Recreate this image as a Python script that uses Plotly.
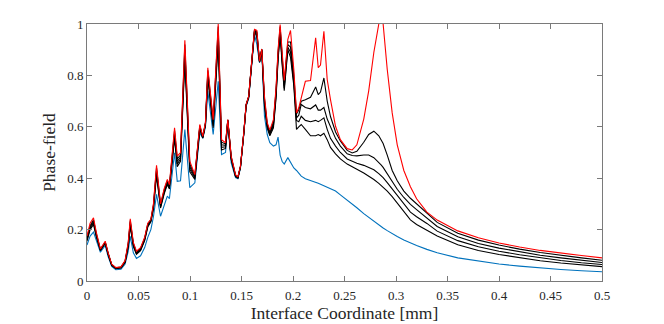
import plotly.graph_objects as go

# interface coordinate [mm]
x = [0.000, 0.003, 0.0063, 0.009, 0.013, 0.0177, 0.0205, 0.024, 0.028, 0.033,
     0.037, 0.040, 0.042, 0.045, 0.048, 0.052, 0.056, 0.059, 0.062, 0.0645,
     0.0675, 0.0714, 0.075, 0.078, 0.080, 0.085, 0.0876, 0.0908, 0.095, 0.0998,
     0.1047, 0.1095, 0.1124, 0.115, 0.1173, 0.1225, 0.1274, 0.1306, 0.1345, 0.1367,
     0.140, 0.1442, 0.1465, 0.149, 0.1522, 0.1545, 0.157, 0.1597, 0.1626, 0.1649,
     0.1675, 0.1697, 0.1723, 0.175, 0.1775, 0.181, 0.1835, 0.1855, 0.1875, 0.1895,
     0.1915, 0.195, 0.1976, 0.2008, 0.2034, 0.2056, 0.208, 0.212, 0.217, 0.222,
     0.2245, 0.2267, 0.230, 0.2332, 0.2364, 0.2413, 0.246, 0.2526, 0.2575, 0.262,
     0.2687, 0.2735, 0.2785, 0.2833, 0.2855, 0.2875, 0.2915, 0.2963, 0.3012, 0.3076,
     0.314, 0.320, 0.330, 0.340, 0.360, 0.380, 0.400, 0.420, 0.440, 0.460,
     0.480, 0.500]

phi_red = [0.175, 0.225, 0.246, 0.19, 0.125, 0.155, 0.11, 0.065, 0.052, 0.055,
           0.08, 0.15, 0.242, 0.15, 0.116, 0.13, 0.17, 0.225, 0.24, 0.30,
           0.45, 0.30, 0.36, 0.395, 0.375, 0.596, 0.486, 0.499, 0.937, 0.466,
           0.414, 0.609, 0.563, 0.617, 0.83, 0.628, 1.0, 0.55, 0.538, 0.628,
           0.486, 0.414, 0.405, 0.447, 0.577, 0.687, 0.719, 0.836, 0.979, 0.975,
           0.855, 0.903, 0.719, 0.616, 0.587, 0.628, 0.75, 0.90, 0.998, 0.89,
           0.78, 0.94, 0.975, 0.823, 0.654, 0.674, 0.713, 0.777, 0.78, 0.946,
           0.83, 0.84, 0.972, 0.784, 0.706, 0.602, 0.55, 0.515, 0.51, 0.53,
           0.63, 0.74, 0.89, 1.0, 1.2, 1.0, 0.823, 0.654, 0.53, 0.43,
           0.367, 0.32, 0.268, 0.237, 0.195, 0.168, 0.148, 0.132, 0.119, 0.108,
           0.099, 0.090]

phi_k1 = [0.17, 0.215, 0.238, 0.185, 0.123, 0.152, 0.108, 0.064, 0.051, 0.054,
          0.078, 0.145, 0.235, 0.146, 0.113, 0.127, 0.167, 0.222, 0.238, 0.295,
          0.44, 0.296, 0.355, 0.39, 0.37, 0.585, 0.475, 0.49, 0.92, 0.455,
          0.41, 0.605, 0.561, 0.615, 0.82, 0.62, 0.99, 0.54, 0.533, 0.627,
          0.483, 0.412, 0.404, 0.446, 0.576, 0.686, 0.718, 0.835, 0.977, 0.97,
          0.854, 0.902, 0.71, 0.61, 0.58, 0.62, 0.74, 0.89, 0.99, 0.87,
          0.77, 0.93, 0.93, 0.80, 0.65, 0.665, 0.70, 0.705, 0.715, 0.755,
          0.725, 0.735, 0.79, 0.70, 0.64, 0.58, 0.545, 0.508, 0.498, 0.505,
          0.54, 0.57, 0.583, 0.565, 0.55, 0.535, 0.49, 0.43, 0.39, 0.35,
          0.322, 0.30, 0.262, 0.228, 0.186, 0.159, 0.140, 0.124, 0.111, 0.100,
          0.090, 0.081]

phi_k2 = [0.165, 0.21, 0.232, 0.18, 0.121, 0.15, 0.106, 0.063, 0.05, 0.053,
          0.076, 0.14, 0.228, 0.142, 0.11, 0.124, 0.164, 0.218, 0.235, 0.29,
          0.43, 0.292, 0.35, 0.385, 0.366, 0.575, 0.465, 0.482, 0.90, 0.445,
          0.405, 0.60, 0.56, 0.612, 0.81, 0.612, 0.97, 0.53, 0.528, 0.626,
          0.48, 0.41, 0.403, 0.445, 0.575, 0.685, 0.717, 0.834, 0.975, 0.965,
          0.853, 0.901, 0.70, 0.605, 0.575, 0.612, 0.73, 0.88, 0.98, 0.86,
          0.76, 0.92, 0.91, 0.78, 0.635, 0.645, 0.687, 0.675, 0.67, 0.685,
          0.665, 0.665, 0.675, 0.63, 0.60, 0.555, 0.525, 0.495, 0.488, 0.487,
          0.49, 0.49, 0.48, 0.462, 0.452, 0.442, 0.418, 0.388, 0.357, 0.325,
          0.298, 0.278, 0.246, 0.212, 0.172, 0.146, 0.128, 0.113, 0.100, 0.090,
          0.080, 0.072]

phi_k3 = [0.16, 0.205, 0.226, 0.177, 0.12, 0.148, 0.105, 0.062, 0.049, 0.052,
          0.074, 0.136, 0.22, 0.138, 0.107, 0.121, 0.16, 0.214, 0.232, 0.285,
          0.42, 0.288, 0.345, 0.38, 0.362, 0.565, 0.455, 0.474, 0.88, 0.435,
          0.40, 0.595, 0.558, 0.61, 0.80, 0.604, 0.95, 0.52, 0.522, 0.625,
          0.476, 0.408, 0.402, 0.444, 0.574, 0.684, 0.716, 0.833, 0.972, 0.958,
          0.852, 0.90, 0.69, 0.60, 0.57, 0.604, 0.72, 0.87, 0.97, 0.85,
          0.75, 0.91, 0.89, 0.77, 0.625, 0.62, 0.641, 0.625, 0.62, 0.625,
          0.62, 0.625, 0.635, 0.59, 0.555, 0.525, 0.50, 0.475, 0.465, 0.458,
          0.45, 0.443, 0.433, 0.418, 0.41, 0.402, 0.383, 0.358, 0.33, 0.298,
          0.268, 0.25, 0.224, 0.194, 0.157, 0.133, 0.116, 0.102, 0.090, 0.080,
          0.071, 0.064]

phi_k4 = [0.155, 0.20, 0.22, 0.173, 0.118, 0.146, 0.103, 0.061, 0.048, 0.051,
          0.072, 0.132, 0.212, 0.134, 0.104, 0.118, 0.157, 0.21, 0.23, 0.28,
          0.41, 0.284, 0.34, 0.375, 0.358, 0.555, 0.445, 0.466, 0.86, 0.425,
          0.395, 0.59, 0.556, 0.607, 0.79, 0.596, 0.93, 0.51, 0.516, 0.624,
          0.472, 0.406, 0.40, 0.443, 0.573, 0.683, 0.715, 0.832, 0.97, 0.95,
          0.851, 0.899, 0.68, 0.595, 0.565, 0.596, 0.71, 0.86, 0.96, 0.84,
          0.74, 0.90, 0.87, 0.76, 0.59, 0.60, 0.609, 0.59, 0.565, 0.565,
          0.57, 0.565, 0.575, 0.55, 0.52, 0.495, 0.475, 0.455, 0.443, 0.435,
          0.42, 0.408, 0.395, 0.38, 0.372, 0.365, 0.35, 0.328, 0.302, 0.268,
          0.238, 0.22, 0.198, 0.175, 0.141, 0.119, 0.103, 0.090, 0.079, 0.070,
          0.062, 0.056]

phi_blue = [0.14, 0.175, 0.19, 0.16, 0.112, 0.138, 0.095, 0.057, 0.044, 0.046,
            0.066, 0.115, 0.174, 0.11, 0.088, 0.098, 0.13, 0.17, 0.2, 0.25,
            0.337, 0.252, 0.30, 0.33, 0.32, 0.499, 0.388, 0.39, 0.589, 0.363,
            0.382, 0.577, 0.555, 0.60, 0.739, 0.57, 0.777, 0.492, 0.50, 0.62,
            0.46, 0.402, 0.398, 0.44, 0.57, 0.68, 0.71, 0.83, 0.96, 0.92,
            0.85, 0.895, 0.641, 0.57, 0.538, 0.525, 0.53, 0.56, 0.49, 0.465,
            0.455, 0.48, 0.46, 0.44, 0.43, 0.42, 0.408, 0.398, 0.392, 0.385,
            0.38, 0.376, 0.37, 0.365, 0.358, 0.35, 0.335, 0.315, 0.30, 0.285,
            0.262, 0.247, 0.232, 0.218, 0.212, 0.206, 0.196, 0.184, 0.173, 0.16,
            0.148, 0.138, 0.123, 0.11, 0.09, 0.077, 0.066, 0.058, 0.051, 0.045,
            0.040, 0.036]

blue = "#0072BD"
red = "#FF0000"

fig = go.Figure()
fig.add_trace(go.Scatter(x=x, y=phi_blue, mode="lines", line=dict(color=blue, width=1.1)))
for k in [phi_k4, phi_k3, phi_k2, phi_k1]:
    fig.add_trace(go.Scatter(x=x, y=k, mode="lines", line=dict(color="black", width=1.1)))
fig.add_trace(go.Scatter(x=x, y=phi_red, mode="lines", line=dict(color=red, width=1.1)))

# the page body adds an 8px offset, so the figure is a bit smaller than the window
fig.update_layout(
    width=656, height=316,
    margin=dict(l=79, r=62, t=16, b=43),
    paper_bgcolor="white",
    plot_bgcolor="white",
    showlegend=False,
    font=dict(family="Liberation Serif", size=13, color="#262626"),
)

axis_style = dict(
    showgrid=False, zeroline=False, automargin=False,
    showline=True, mirror="ticks", linecolor="#7a7a7a", linewidth=1,
    ticks="inside", ticklen=5, tickcolor="#7a7a7a", tickwidth=1,
)

fig.update_xaxes(
    range=[0, 0.5], dtick=0.05, tick0=0, ticklabelstandoff=2,
    title=dict(text="Interface Coordinate [mm]", font=dict(size=17.5), standoff=3),
    **axis_style
)
fig.update_yaxes(
    range=[0, 1], dtick=0.2, tick0=0,
    title=dict(text="Phase-field", font=dict(size=17.5), standoff=7),
    **axis_style
)

fig.write_html("out.html")
